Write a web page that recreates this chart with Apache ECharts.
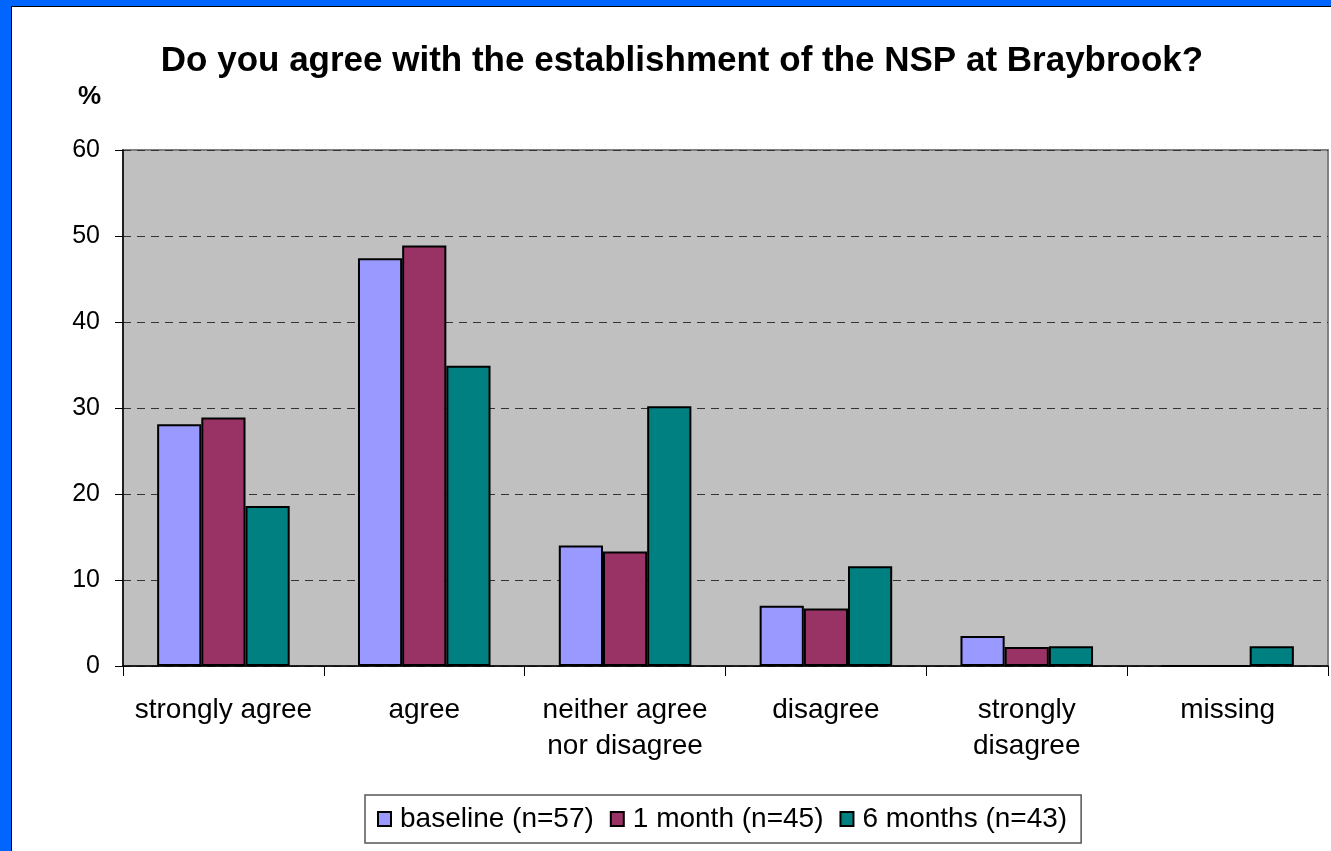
<!DOCTYPE html>
<html><head><meta charset="utf-8">
<script src="https://cdn.jsdelivr.net/npm/echarts@6/dist/echarts.min.js"></script>
<style>
html,body{margin:0;padding:0;width:1331px;height:851px;overflow:hidden;background:#0066FF;}
#frame{position:absolute;left:11px;top:6px;width:1320px;height:845px;background:#fff;border-left:1px solid #000;border-top:1px solid #000;box-sizing:border-box;}
#chart{position:absolute;left:0;top:0;width:1331px;height:851px;}
</style></head>
<body>
<div id="frame"></div>
<div id="chart"></div>
<script>
const categories = ['strongly agree', 'agree', 'neither agree\nnor disagree', 'disagree', 'strongly\ndisagree', 'missing'];
const seriesNames = ['baseline (n=57)', '1 month (n=45)', '6 months (n=43)'];
const baseline = [28.1, 47.4, 14.0, 7.0, 3.5, 0];
const month1 = [28.9, 48.9, 13.3, 6.7, 2.2, 0];
const month6 = [18.6, 34.9, 30.2, 11.6, 2.3, 2.3];
const colors = ['#9999FF', '#993366', '#008080'];
const values = [baseline, month1, month6];

const chart = echarts.init(document.getElementById('chart'), null, {renderer: 'canvas'});
const font = 'Liberation Sans, Arial, sans-serif';
chart.setOption({
  backgroundColor: 'transparent',
  animation: false,
  textStyle: {fontFamily: font},
  title: {
    text: 'Do you agree with the establishment of the NSP at Braybrook?',
    left: 677, top: 39, textAlign: 'center',
    textStyle: {fontSize: 35, fontWeight: 'bold', color: '#000', fontFamily: font}
  },
  legend: {
    data: seriesNames,
    left: 365, top: 795,
    itemWidth: 13, itemHeight: 14, itemGap: 16,
    padding: [10, 14, 10, 12],
    borderColor: '#555', borderWidth: 1.5,
    textStyle: {fontSize: 28, color: '#000', fontFamily: font, padding: [0, 0, 0, 4]},
    icon: 'rect'
  },
  grid: {left: 123, right: 3, top: 150, bottom: 185, show: true, backgroundColor: '#C0C0C0', borderColor: '#808080', borderWidth: 2},
  xAxis: {
    type: 'category', data: categories,
    axisLine: {lineStyle: {color: '#000', width: 1.5}},
    axisTick: {show: true, length: 10, lineStyle: {color: '#000'}},
    axisLabel: {fontSize: 28, color: '#000', margin: 26, lineHeight: 36, fontFamily: font, interval: 0}
  },
  yAxis: {
    type: 'value', min: 0, max: 60, interval: 10,
    name: '%', nameLocation: 'end', nameGap: 40,
    nameTextStyle: {fontSize: 26, fontWeight: 'bold', color: '#000', fontFamily: font, align: 'right', padding: [0, 22, 0, 0]},
    axisLine: {show: true, lineStyle: {color: '#000', width: 1.5}},
    axisTick: {show: true, length: 8, lineStyle: {color: '#000'}},
    axisLabel: {fontSize: 25, color: '#000', margin: 23, fontFamily: font},
    splitLine: {show: true, lineStyle: {color: '#333', type: [8, 6], width: 1}}
  },
  series: seriesNames.map((n, i) => ({
    name: n, type: 'bar', data: values[i],
    barGap: '0%', barCategoryGap: '34%',
    itemStyle: {color: colors[i], borderColor: '#000', borderWidth: 2}
  }))
});
</script>
</body></html>
